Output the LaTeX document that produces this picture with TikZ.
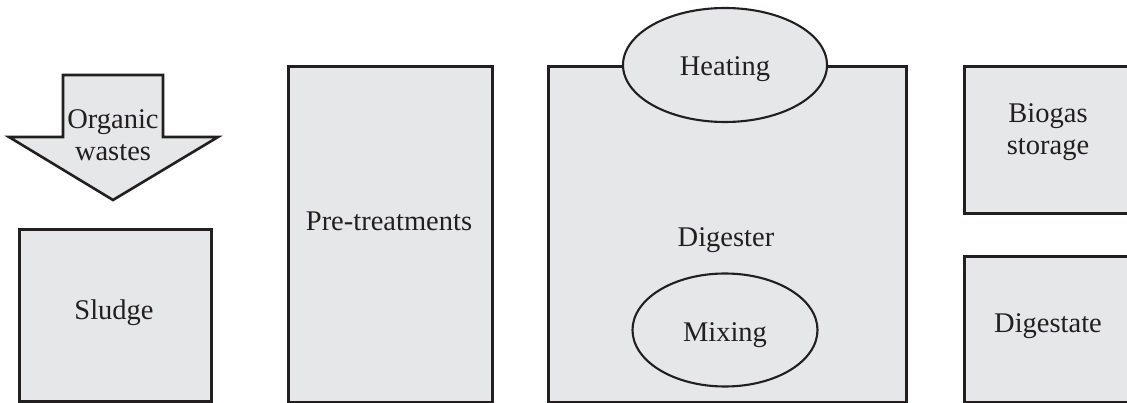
\documentclass[tikz,border=0pt]{standalone}
\usepackage{fontspec}
\setmainfont{Liberation Serif}
\usetikzlibrary{shapes.geometric}
\begin{document}
\begin{tikzpicture}[x=1pt,y=-1pt,
  shapefill/.style={fill=boxgray, draw=edgec, line width=2.6pt, line join=miter},
  boxnode/.style={shapefill, rectangle, inner sep=0pt, anchor=north west},
  ellnode/.style={fill=boxgray, draw=edgec, line width=2.1pt, ellipse, inner sep=0pt},
  lbl/.style={inner sep=0pt, align=center, text=edgec, font=\fontsize{28.5}{31.5}\selectfont}]
\definecolor{boxgray}{HTML}{E6E7E8}
\definecolor{edgec}{HTML}{231F20}
\useasboundingbox (0,0) rectangle (1127,403);
\clip (0,0) rectangle (1127,403);
% arrow
\draw[shapefill] (63,75) -- (163,75) -- (163,137) -- (218,137) -- (113,200) -- (9,137) -- (63,137) -- cycle;
\node[lbl] (organic) at (113,135) {Organic\\wastes};
% boxes
\node[boxnode, minimum width=192pt, minimum height=172pt] (sludgebox) at (18,228) {};
\node[lbl] (sludge) at (114,313) {Sludge};
\node[boxnode, minimum width=204pt, minimum height=336pt] (pretbox) at (287,65) {};
\node[lbl] (pret) at (389,221) {Pre-treatments};
\node[boxnode, minimum width=358pt, minimum height=336pt] (digbox) at (547,65) {};
\node[lbl] (dig) at (726,240) {Digester};
\node[ellnode, minimum width=204pt, minimum height=114pt] (heatell) at (725,65) {};
\node[lbl] (heat) at (725,69) {Heating};
\node[ellnode, minimum width=185pt, minimum height=113pt] (mixell) at (725,330) {};
\node[lbl] (mix) at (725,335) {Mixing};
\node[boxnode, minimum width=200pt, minimum height=147pt] (biobox) at (963,65) {};
\node[lbl] (bio) at (1048,132) {Biogas\\storage};
\node[boxnode, minimum width=200pt, minimum height=146pt] (digebox) at (963,255) {};
\node[lbl] (dige) at (1048,326) {Digestate};
\end{tikzpicture}
\end{document}
